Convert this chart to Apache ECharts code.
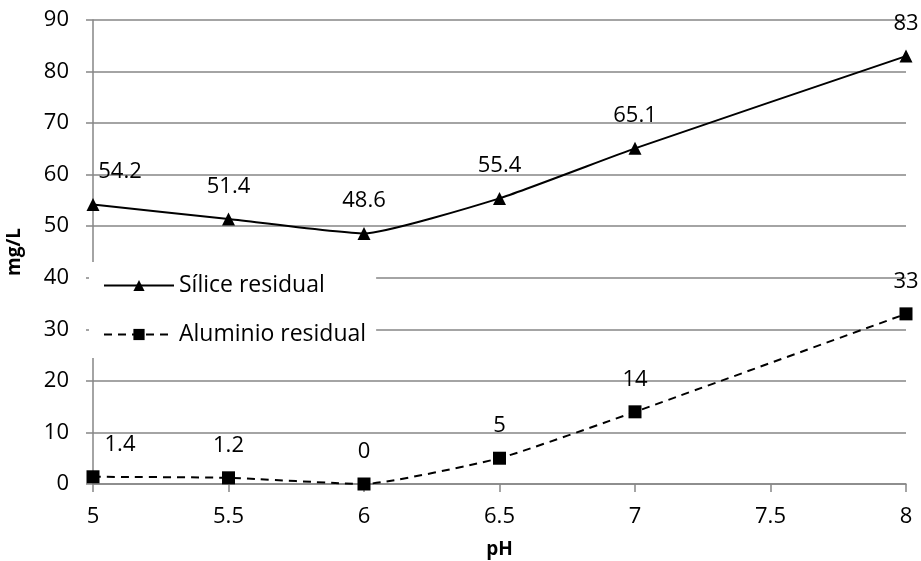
<!DOCTYPE html>
<html>
<head>
<meta charset="utf-8">
<script src="https://cdn.jsdelivr.net/npm/echarts@6/dist/echarts.min.js"></script>
<style>
    html, body { margin: 0; padding: 0; background: #fff; }
    #chart { width: 921px; height: 561px; }
</style>
</head>
<body>
<div id="chart"></div>
<script>
const phValues = [5, 5.5, 6, 6.5, 7, 8];
const silice = [54.2, 51.4, 48.6, 55.4, 65.1, 83];
const aluminio = [1.4, 1.2, 0, 5, 14, 33];

const gray = '#868686';
const font = 'Open Sans';

const toPoints = (ys) => phValues.map((x, i) => {
    const p = { value: [x, ys[i]] };
    // first label sits to the right of the axis
    if (i === 0) p.label = { offset: [27, 0] };
    return p;
});

const chart = echarts.init(document.querySelector('#chart'));
chart.setOption({
    animation: false,
    textStyle: { fontFamily: font },
    grid: { left: 93, right: 15, top: 20, bottom: 77, outerBoundsMode: 'none' },
    legend: {
        orient: 'vertical',
        left: 89,
        top: 262,
        padding: [12, 10, 12, 14],
        itemGap: 26,
        itemWidth: 70,
        itemHeight: 14,
        backgroundColor: '#fff',
        textStyle: { fontFamily: font, fontSize: 23, color: '#000' },
        data: ['Sílice residual', 'Aluminio residual']
    },
    xAxis: {
        type: 'value',
        min: 5,
        max: 8,
        interval: 0.5,
        name: 'pH',
        nameLocation: 'middle',
        nameGap: 56,
        nameTextStyle: { fontFamily: font, fontSize: 19, fontWeight: 'bold', color: '#000' },
        axisLine: { lineStyle: { color: gray, width: 1.5 } },
        axisTick: { show: true, length: 8, lineStyle: { color: gray, width: 1.5 } },
        axisLabel: { fontSize: 22, color: '#000', margin: 22 },
        splitLine: { show: false }
    },
    yAxis: {
        type: 'value',
        min: 0,
        max: 90,
        interval: 10,
        name: 'mg/L',
        nameLocation: 'middle',
        nameGap: 69,
        nameTextStyle: { fontFamily: font, fontSize: 19, fontWeight: 'bold', color: '#000' },
        axisLine: { show: true, lineStyle: { color: gray, width: 1.5 } },
        axisTick: { show: true, length: 7, lineStyle: { color: gray, width: 1.5 } },
        axisLabel: { fontSize: 22, color: '#000', margin: 24 },
        splitLine: { lineStyle: { color: gray, width: 1.5 } }
    },
    series: [
        {
            name: 'Sílice residual',
            type: 'line',
            smooth: 0.15,
            data: toPoints(silice),
            symbol: 'triangle',
            symbolSize: 13,
            itemStyle: { color: '#000' },
            lineStyle: { color: '#000', width: 2 },
            label: { show: true, position: 'top', distance: 15, fontSize: 22, color: '#000' }
        },
        {
            name: 'Aluminio residual',
            type: 'line',
            smooth: 0.15,
            data: toPoints(aluminio),
            symbol: 'rect',
            symbolSize: 13,
            itemStyle: { color: '#000' },
            lineStyle: { color: '#000', width: 2, type: [8, 6] },
            label: { show: true, position: 'top', distance: 15, fontSize: 22, color: '#000' }
        }
    ]
});
</script>
</body>
</html>
